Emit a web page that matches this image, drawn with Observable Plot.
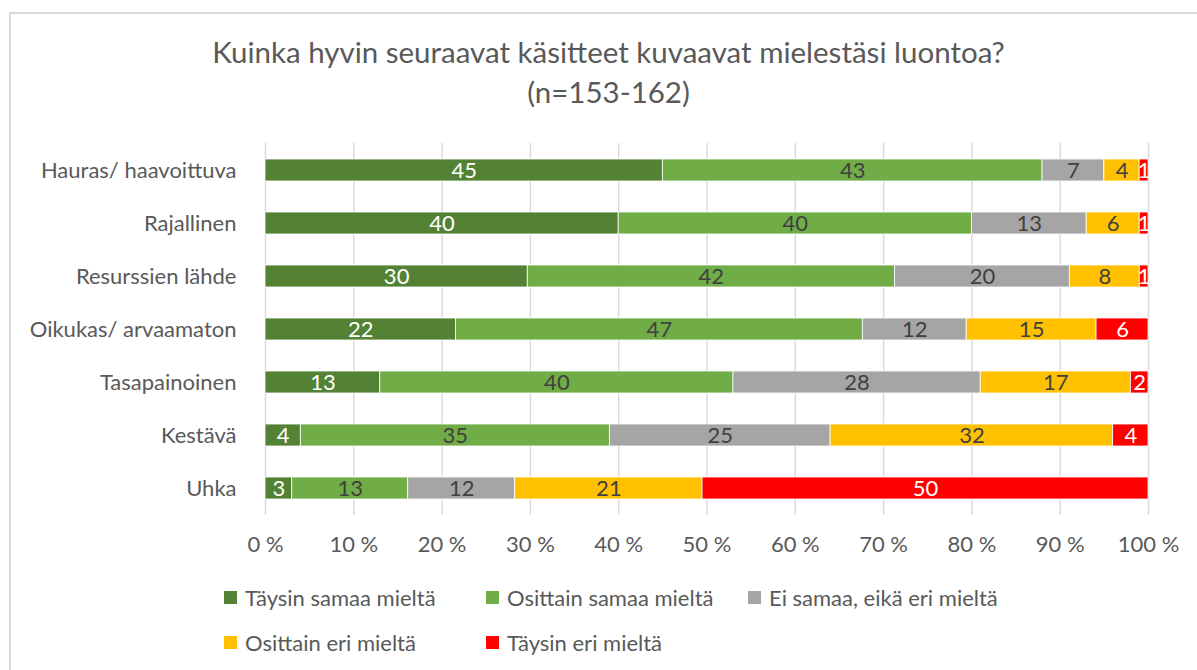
<!DOCTYPE html>
<html>
<head>
<meta charset="utf-8">
<script src="https://cdn.jsdelivr.net/npm/d3@7"></script>
<script src="https://cdn.jsdelivr.net/npm/@observablehq/plot@0.6"></script>
<style>
  html, body { margin: 0; padding: 0; overflow: hidden; background: #fff; }
  body { width: 1197px; height: 670px; position: relative; font-family: Lato, "Open Sans", sans-serif; color: #595959; }
  #frame { position: absolute; left: 9px; top: 12px; width: 1300px; height: 800px; border: 2px solid #d9d9d9; box-sizing: border-box; }
  #title { position: absolute; left: 20px; width: 1177px; top: 32px; text-align: center; font-size: 29.5px; line-height: 40px; color: #595959; }
  #chart { position: absolute; left: 0; top: 130px; }
  #legend { position: absolute; left: 224px; top: 583px; width: 800px; display: flex; flex-wrap: wrap; }
  .item { width: 262px; height: 45px; display: flex; align-items: flex-start; font-size: 22px; line-height: 30px; color: #595959; }
  .sw { width: 13px; height: 13px; margin-top: 8px; margin-right: 8px; flex: none; }
</style>
</head>
<body>
<div id="frame"></div>
<div id="title">Kuinka hyvin seuraavat käsitteet kuvaavat mielestäsi luontoa?<br>(n=153-162)</div>
<div id="chart"></div>
<div id="legend"></div>
<script>
const categories = ["Hauras/ haavoittuva", "Rajallinen", "Resurssien lähde", "Oikukas/ arvaamaton", "Tasapainoinen", "Kestävä", "Uhka"];
const seriesNames = ["Täysin samaa mieltä", "Osittain samaa mieltä", "Ei samaa, eikä eri mieltä", "Osittain eri mieltä", "Täysin eri mieltä"];
const seriesColors = ["#548235", "#70ad47", "#a5a5a5", "#ffc000", "#ff0000"];
const labelColors = ["#ffffff", "#404040", "#404040", "#404040", "#ffffff"];

const taysinSamaa   = [45, 40, 30, 22, 13,  4,  3];
const osittainSamaa = [43, 40, 42, 47, 40, 35, 13];
const eiSamaaEiEri  = [ 7, 13, 20, 12, 28, 25, 12];
const osittainEri   = [ 4,  6,  8, 15, 17, 32, 21];
const taysinEri     = [ 1,  1,  1,  6,  2,  4, 50];
const seriesValues = [taysinSamaa, osittainSamaa, eiSamaaEiEri, osittainEri, taysinEri];

const xTicks = [0, 10, 20, 30, 40, 50, 60, 70, 80, 90, 100];

const rows = [];
categories.forEach((cat, i) => {
  seriesNames.forEach((s, j) => {
    rows.push({cat, series: s, value: seriesValues[j][i], color: seriesColors[j], label: labelColors[j]});
  });
});

const font = "Lato, 'Open Sans', sans-serif";
const chart = Plot.plot({
  width: 1197,
  height: 435,
  marginLeft: 265,
  marginRight: 49,
  marginTop: 13,
  marginBottom: 50,
  style: {fontFamily: font, fontSize: "22px", color: "#595959", background: "transparent"},
  x: {domain: [0, 1], axis: null},
  y: {domain: categories, paddingInner: 0.586, paddingOuter: 0.293, axis: null},
  color: {type: "identity"},
  marks: [
    Plot.gridX(xTicks.map(d => d / 100), {stroke: "#d9d9d9", strokeOpacity: 1, strokeWidth: 1.4}),
    Plot.barX(rows, Plot.stackX({x: "value", y: "cat", fill: "color", z: "series", offset: "normalize", stroke: "#ffffff", strokeWidth: 0.8})),
    Plot.text(rows, Plot.stackX({x: "value", y: "cat", z: "series", text: d => String(d.value), fill: "label", offset: "normalize", fontSize: 22, fontFamily: font})),
    Plot.axisY({tickSize: 0, tickPadding: 29, fontSize: 22, fontFamily: font, label: null}),
    Plot.axisX(xTicks.map(d => d / 100), {tickSize: 0, tickPadding: 21, tickFormat: d => Math.round(d * 100) + " %", fontSize: 22, fontFamily: font, label: null})
  ]
});
document.getElementById("chart").appendChild(chart);

const legend = document.getElementById("legend");
const legendOrder = [0, 1, 2, 3, 4];
legendOrder.forEach(j => {
  const item = document.createElement("div");
  item.className = "item";
  const sw = document.createElement("span");
  sw.className = "sw";
  sw.style.background = seriesColors[j];
  const t = document.createElement("span");
  t.textContent = seriesNames[j];
  item.appendChild(sw);
  item.appendChild(t);
  legend.appendChild(item);
});
</script>
</body>
</html>
